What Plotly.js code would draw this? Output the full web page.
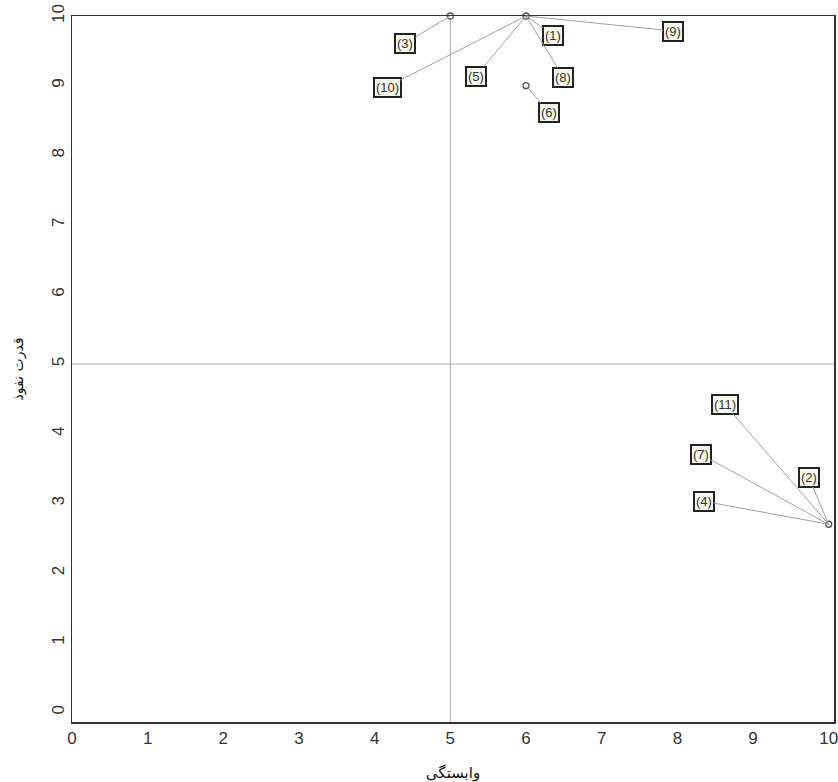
<!DOCTYPE html>
<html>
<head>
<meta charset="utf-8">
<script src="https://cdn.plot.ly/plotly-3.0.1.min.js"></script>
<style>html,body{margin:0;padding:0;background:#fff;}#chart{width:838px;height:782px;}</style>
</head>
<body>
<div id="chart"></div>
<script>
// Data: variable points (dependence, influence)
const pointX = [5, 6, 6, 10];
const pointY = [10, 10, 9, 2.7];
// Labels per variable, attached to point index
const varLabels = ['(3)', '(1)', '(9)', '(5)', '(8)', '(10)', '(6)', '(2)', '(7)', '(4)', '(11)'];
const varPoint  = [0, 1, 1, 1, 1, 1, 2, 3, 3, 3, 3];
// label offsets in pixels (layout only)
const labelDX = [-45, 27, 147, -50, 37, -139, 23, -20, -128, -125, -104];
const labelDY = [27, 19, 15, 60, 61, 71, 27, -47, -70, -23, -120];
const xTicks = [0,1,2,3,4,5,6,7,8,9,10];
const yTicks = [0,1,2,3,4,5,6,7,8,9,10];
const xTitle = 'وابستگی';
const yTitle = 'قدرت نفوذ';
const splitX = 5, splitY = 5;

const font = 'Liberation Sans Narrow, Liberation Sans, Arial, sans-serif';

const annotations = varLabels.map((t, i) => ({
  x: pointX[varPoint[i]], y: pointY[varPoint[i]], xref: 'x', yref: 'y',
  text: t, showarrow: true, arrowhead: 0, arrowwidth: 1, arrowcolor: '#a0a0a0',
  ax: labelDX[i], ay: labelDY[i],
  bgcolor: '#f5f7ea', bordercolor: '#222', borderwidth: 2, borderpad: 1,
  font: {family: font, size: 13, color: '#333'}
}));

const data = [{
  x: pointX, y: pointY, type: 'scatter', mode: 'markers', cliponaxis: false,
  marker: {size: 6, color: '#fff', line: {color: '#555', width: 1.3}},
  hoverinfo: 'x+y'
}];

const layout = {
  width: 838, height: 782,
  margin: {l: 72, r: 4, t: 16, b: 60},
  paper_bgcolor: '#fff', plot_bgcolor: '#fff',
  showlegend: false,
  font: {family: font, size: 15, color: '#333'},
  xaxis: {
    range: [0, 10.07], tickvals: xTicks, ticktext: xTicks.map(String),
    showgrid: false, zeroline: false, showline: true, mirror: true,
    linecolor: '#333', linewidth: 1.5, ticks: '', ticklen: 0,
    ticklabeloverflow: 'allow',
    tickfont: {family: font, size: 17, color: '#333'},
    title: {text: xTitle, font: {family: 'DejaVu Sans, Noto Sans', size: 15, color: '#111'}, standoff: 20}
  },
  yaxis: {
    range: [-0.14, 10], tickvals: yTicks, ticktext: yTicks.map(String), tickangle: -90,
    showgrid: false, zeroline: false, showline: true, mirror: true,
    linecolor: '#333', linewidth: 1.5, ticks: '',
    ticklabeloverflow: 'allow',
    tickfont: {family: font, size: 17, color: '#333'},
    title: {text: yTitle, font: {family: 'DejaVu Sans, Noto Sans', size: 14, color: '#111'}, standoff: 22}
  },
  shapes: [
    {type: 'line', xref: 'x', yref: 'paper', x0: splitX, x1: splitX, y0: 0, y1: 1, line: {color: '#aaa', width: 1}, layer: 'below'},
    {type: 'line', xref: 'paper', yref: 'y', x0: 0, x1: 1, y0: splitY, y1: splitY, line: {color: '#aaa', width: 1}, layer: 'below'}
  ],
  annotations: annotations
};

Plotly.newPlot('chart', data, layout, {displayModeBar: false, staticPlot: true});
</script>
</body>
</html>
